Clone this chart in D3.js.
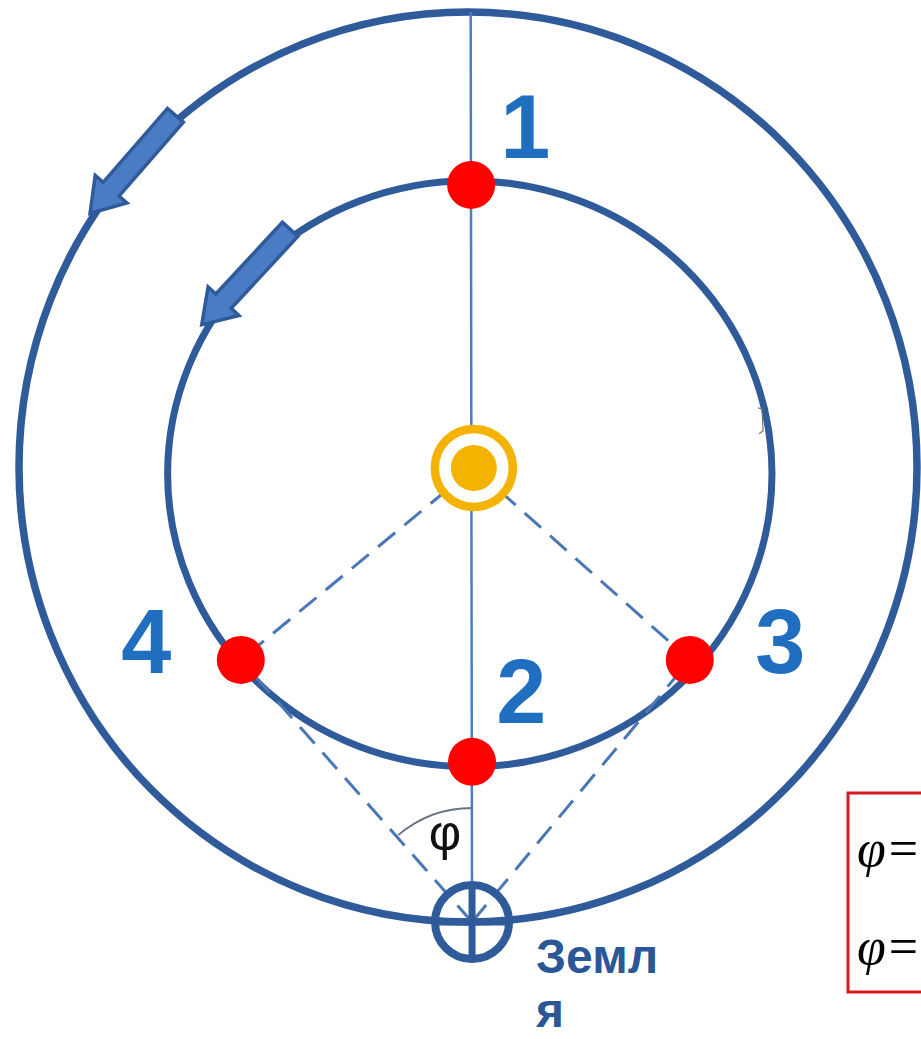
<!DOCTYPE html>
<html>
<head>
<meta charset="utf-8">
<script src="https://cdn.jsdelivr.net/npm/d3@7/dist/d3.min.js"></script>
<style>
  html, body { margin: 0; padding: 0; background: #ffffff; overflow: hidden; }
  svg { display: block; }
</style>
</head>
<body>
<svg id="chart" width="921" height="1039"></svg>
<script>
// ---------------- DATA (diagram units: Earth orbit radius = 1, Sun at origin, y up) ----------------
const orbitNames = ["outer", "inner"];
const orbitCx    = [0.000, 0.004];
const orbitCy    = [0.000, -0.015];
const orbitRx    = [1.000, 0.673];
const orbitRy    = [1.000, 0.644];

const sunPos   = [0.013, -0.002];
const earthPos = [0.009, -1.000];

const pointLabels = ["1", "2", "3", "4"];
const pointX      = [0.007, 0.009, 0.494, -0.506];
const pointY      = [0.620, -0.648, -0.424, -0.424];
const labelX      = [0.072, 0.063, 0.640, -0.772];
const labelY      = [0.679, -0.563, -0.453, -0.453];

// dashed sight lines: [from, to]
const dashFrom = ["sun", "sun", "earth", "earth"];
const dashTo   = ["3", "4", "3", "4"];

// direction-of-motion arrows on orbits (angle in degrees, counter-clockwise from +x)
const arrowOrbit = ["outer", "inner"];
const arrowAngle = [138.3, 137.8];

const earthLabelLines = ["Земл", "я"];
const angleLabel = "φ";
const formulaLines = ["φ =", "φ ="];

// ---------------- SCALES ----------------
const svg = d3.select("#chart");
const x = d3.scaleLinear().domain([-1, 1]).range([468 - 449, 468 + 449]);
const y = d3.scaleLinear().domain([-1, 1]).range([467 + 455, 467 - 455]);

const orbitColor = "#2f5b9a";
const lineColor  = "#4a7ec0";
const dashColor  = "#4a78b6";
const labelColor = "#1f6ebf";

const pts = pointLabels.map((l, i) => ({ label: l, x: pointX[i], y: pointY[i], lx: labelX[i], ly: labelY[i] }));
const ptByLabel = Object.fromEntries(pts.map(p => [p.label, p]));
const posOf = k => k === "sun" ? { x: sunPos[0], y: sunPos[1] } : k === "earth" ? { x: earthPos[0], y: earthPos[1] } : ptByLabel[k];

// ---------------- ORBITS ----------------
const orbits = orbitNames.map((n, i) => ({ name: n, cx: orbitCx[i], cy: orbitCy[i], rx: orbitRx[i], ry: orbitRy[i] }));
svg.append("g").selectAll("ellipse").data(orbits).join("ellipse")
  .attr("cx", d => x(d.cx)).attr("cy", d => y(d.cy))
  .attr("rx", d => x(d.cx + d.rx) - x(d.cx))
  .attr("ry", d => y(d.cy) - y(d.cy + d.ry))
  .attr("fill", "none").attr("stroke", orbitColor)
  .attr("stroke-width", d => d.name === "outer" ? 7.5 : 7);

// ---------------- VERTICAL LINE ----------------
svg.append("line")
  .attr("x1", x(pointX[0] - 0.001)).attr("y1", y(1.0))
  .attr("x2", x(earthPos[0])).attr("y2", y(earthPos[1]))
  .attr("stroke", lineColor).attr("stroke-width", 2.5);

// ---------------- DASHED LINES ----------------
const dashes = dashFrom.map((f, i) => ({ a: posOf(f), b: posOf(dashTo[i]) }));
svg.append("g").selectAll("line").data(dashes).join("line")
  .attr("x1", d => x(d.a.x)).attr("y1", d => y(d.a.y))
  .attr("x2", d => x(d.b.x)).attr("y2", d => y(d.b.y))
  .attr("stroke", dashColor).attr("stroke-width", 3)
  .attr("stroke-dasharray", "22,12");

// ---------------- ANGLE ARC φ ----------------
{
  const ex = x(earthPos[0]), ey = y(earthPos[1]);
  const p4 = ptByLabel["4"];
  const a0 = Math.atan2(y(p4.y) - ey, x(p4.x) - ex);
  const p = d3.path();
  p.arc(ex, ey, 114, a0 + 0.02, -Math.PI / 2);
  svg.append("path").attr("d", p.toString()).attr("fill", "none")
    .attr("stroke", "#6a7385").attr("stroke-width", 1.8);
  svg.append("text").attr("x", ex - 27).attr("y", ey - 72)
    .attr("text-anchor", "middle")
    .attr("font-family", "Liberation Sans, Arial, sans-serif")
    .attr("font-size", 50).attr("fill", "#111").text(angleLabel);
}

// ---------------- MOTION ARROWS ----------------
function orbitPoint(o, deg) {
  const t = deg * Math.PI / 180;
  return [x(o.cx + o.rx * Math.cos(t)), y(o.cy + o.ry * Math.sin(t))];
}
const arrows = arrowOrbit.map((n, i) => {
  const o = orbits.find(d => d.name === n);
  const c = orbitPoint(o, arrowAngle[i]);
  const c2 = orbitPoint(o, arrowAngle[i] + 0.5);
  let dx = c2[0] - c[0], dy = c2[1] - c[1];
  const len = Math.hypot(dx, dy); dx /= len; dy /= len;
  const L = 130, w = 10.5, hw = 21, hl = 32;
  const nx = -dy, ny = dx;
  const tail = [c[0] - dx * L / 2, c[1] - dy * L / 2];
  const tip = [c[0] + dx * L / 2, c[1] + dy * L / 2];
  const hb = [tip[0] - dx * hl, tip[1] - dy * hl];
  return [
    [tail[0] + nx * w, tail[1] + ny * w],
    [hb[0] + nx * w, hb[1] + ny * w],
    [hb[0] + nx * hw, hb[1] + ny * hw],
    tip,
    [hb[0] - nx * hw, hb[1] - ny * hw],
    [hb[0] - nx * w, hb[1] - ny * w],
    [tail[0] - nx * w, tail[1] - ny * w]
  ];
});
svg.append("g").selectAll("path").data(arrows).join("path")
  .attr("d", d => d3.line()(d) + "Z")
  .attr("fill", "#4a7cc6").attr("stroke", "#2f5b9a").attr("stroke-width", 3.5)
  .attr("stroke-linejoin", "miter");

// ---------------- EARTH SYMBOL ----------------
{
  const ex = x(earthPos[0]), ey = y(earthPos[1]), r = 37;
  const g = svg.append("g").attr("stroke", orbitColor).attr("fill", "none");
  g.append("circle").attr("cx", ex).attr("cy", ey).attr("r", r).attr("stroke-width", 8);
  g.append("line").attr("x1", ex).attr("x2", ex).attr("y1", ey - r).attr("y2", ey + r).attr("stroke-width", 7);
  g.append("line").attr("x1", ex - r).attr("x2", ex + r).attr("y1", ey).attr("y2", ey).attr("stroke-width", 7);
  svg.append("g").selectAll("text").data(earthLabelLines).join("text")
    .attr("x", ex + 64).attr("y", (d, i) => ey + 51 + i * 54)
    .attr("font-family", "Liberation Sans, Arial, sans-serif")
    .attr("font-weight", "bold").attr("font-size", 48)
    .attr("fill", "#2b5797").text(d => d);
}

// ---------------- SUN ----------------
{
  const sx = x(sunPos[0]), sy = y(sunPos[1]);
  svg.append("circle").attr("cx", sx).attr("cy", sy).attr("r", 39)
    .attr("fill", "#ffffff").attr("stroke", "#f5b301").attr("stroke-width", 8.5);
  svg.append("circle").attr("cx", sx).attr("cy", sy).attr("r", 23).attr("fill", "#f5b301");
}

// ---------------- PLANET POSITIONS ----------------
svg.append("g").selectAll("circle").data(pts).join("circle")
  .attr("cx", d => x(d.x)).attr("cy", d => y(d.y)).attr("r", 24)
  .attr("fill", "#ff0000");

svg.append("g").selectAll("text").data(pts).join("text")
  .attr("x", d => x(d.lx)).attr("y", d => y(d.ly))
  .attr("font-family", "Liberation Sans, Arial, sans-serif")
  .attr("font-weight", "bold").attr("font-size", 90)
  .attr("fill", labelColor).text(d => d.label);

// small stray mark on inner orbit
svg.append("path")
  .attr("d", `M${x(0.646)},${y(0.13)} l4,1 l1,22 l-4,3`)
  .attr("fill", "none").attr("stroke", "#777").attr("stroke-width", 1.2);

// ---------------- FORMULA BOX (cut off at right edge) ----------------
svg.append("rect").attr("x", 848).attr("y", 793).attr("width", 120).attr("height", 199)
  .attr("fill", "#ffffff").attr("stroke", "#d9181e").attr("stroke-width", 3);
const ft = svg.append("g").selectAll("text").data(formulaLines).join("text")
  .attr("x", 857).attr("y", (d, i) => 866 + i * 98)
  .attr("font-family", "Liberation Serif, Times New Roman, serif")
  .attr("font-size", 52).attr("fill", "#000");
ft.append("tspan").attr("font-style", "italic").text(d => d.split(" ")[0]);
ft.append("tspan").attr("dx", 3).text(d => d.split(" ")[1]);
</script>
</body>
</html>
